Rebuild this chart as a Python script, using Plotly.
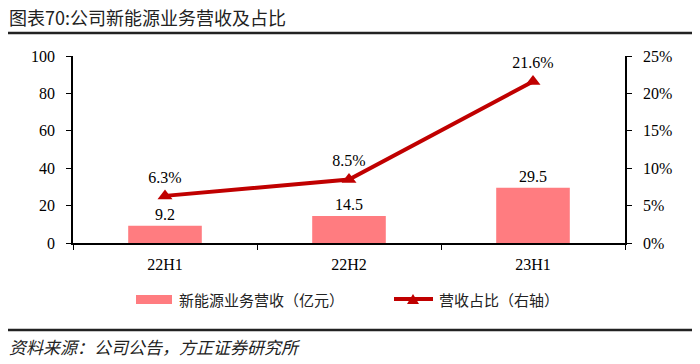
import plotly.graph_objects as go

categories = ["22H1", "22H2", "23H1"]
revenue = [9.2, 14.5, 29.5]
share = [6.3, 8.5, 21.6]
revenue_labels = ["9.2", "14.5", "29.5"]
share_labels = ["6.3%", "8.5%", "21.6%"]
left_ticks = [0, 20, 40, 60, 80, 100]
right_ticks = [0, 5, 10, 15, 20, 25]
right_tick_labels = ["0%", "5%", "10%", "15%", "20%", "25%"]
legend_names = ["新能源业务营收（亿元）", "营收占比（右轴）"]

W, H = 700, 364
L, R, T, B = 73, 75, 56, 121
PW, PH = W - L - R, H - T - B

def px(x):
    return (x - L) / PW

def py(y):
    return (H - B - y) / PH

NUM_FONT = "Liberation Serif"
CJK_FONT = "Noto Sans CJK SC"
BAR_COLOR = "#FF7C80"
LINE_COLOR = "#C00000"

fig = go.Figure()
fig.add_trace(go.Bar(
    x=categories, y=revenue, name=legend_names[0],
    marker=dict(color=BAR_COLOR, line=dict(width=0)),
    width=0.4,
    text=revenue_labels, textposition="outside",
    textfont=dict(family=NUM_FONT, size=16, color="black"),
    cliponaxis=False,
))
fig.add_trace(go.Scatter(
    x=categories, y=share, name=legend_names[1], yaxis="y2",
    mode="lines+markers+text",
    line=dict(color=LINE_COLOR, width=4),
    marker=dict(symbol="triangle-up", size=13, color=LINE_COLOR),
    text=share_labels, textposition="top center",
    textfont=dict(family=NUM_FONT, size=16, color="black"),
    cliponaxis=False,
))

# legend drawn by hand (wide bar swatch, line with triangle)
ly = 299
tri_cx, tri_w, tri_h = 413, 12, 10
legend_shapes = [
    dict(type="rect", xref="paper", yref="paper", x0=px(136), x1=px(172), y0=py(304), y1=py(295),
         fillcolor=BAR_COLOR, line=dict(width=0)),
    dict(type="line", xref="paper", yref="paper", x0=px(394), x1=px(433), y0=py(ly), y1=py(ly),
         line=dict(color=LINE_COLOR, width=4)),
    dict(type="path", xref="paper", yref="paper",
         path=f"M {px(tri_cx - tri_w/2)} {py(ly + tri_h/2)} L {px(tri_cx + tri_w/2)} {py(ly + tri_h/2)} "
              f"L {px(tri_cx)} {py(ly - tri_h/2)} Z",
         fillcolor=LINE_COLOR, line=dict(width=0)),
]

fig.update_layout(
    width=W, height=H,
    margin=dict(l=L, r=R, t=T, b=B),
    paper_bgcolor="white", plot_bgcolor="white",
    showlegend=False,
    xaxis=dict(
        showline=True, linecolor="black", linewidth=1.5,
        ticks="outside", ticklen=5, tickcolor="black",
        tickson="boundaries", ticklabelstandoff=6,
        tickfont=dict(family=NUM_FONT, size=16, color="black"),
        showgrid=False, zeroline=False,
    ),
    yaxis=dict(
        range=[0, 100], tickvals=left_ticks,
        showline=True, linecolor="black", linewidth=1.5,
        ticks="outside", ticklen=5, tickcolor="black", ticklabelstandoff=8,
        tickfont=dict(family=NUM_FONT, size=16, color="black"),
        showgrid=False, zeroline=False,
    ),
    yaxis2=dict(
        range=[0, 25], tickvals=right_ticks, ticktext=right_tick_labels,
        overlaying="y", side="right",
        showline=True, linecolor="black", linewidth=1.5,
        ticks="outside", ticklen=5, tickcolor="black", ticklabelstandoff=8,
        tickfont=dict(family=NUM_FONT, size=16, color="black"),
        showgrid=False, zeroline=False,
    ),
    shapes=[
        dict(type="line", xref="paper", yref="paper", x0=px(8), x1=px(692), y0=py(33), y1=py(33),
             line=dict(color="#222", width=2.5)),
        dict(type="line", xref="paper", yref="paper", x0=px(8), x1=px(692), y0=py(330), y1=py(330),
             line=dict(color="#222", width=2.5)),
    ] + legend_shapes,
    annotations=[
        dict(text="图表70:公司新能源业务营收及占比", xref="paper", yref="paper",
             x=px(7), y=py(17), xanchor="left", yanchor="middle", showarrow=False,
             font=dict(family=CJK_FONT, size=18, color="#222")),
        dict(text="<i>资料来源：公司公告，方正证券研究所</i>", xref="paper", yref="paper",
             x=px(7), y=py(346), xanchor="left", yanchor="middle", showarrow=False,
             font=dict(family=CJK_FONT, size=17, color="#222")),
        dict(text=legend_names[0], xref="paper", yref="paper",
             x=px(177), y=py(ly), xanchor="left", yanchor="middle", showarrow=False,
             font=dict(family=CJK_FONT, size=15, color="#222")),
        dict(text=legend_names[1], xref="paper", yref="paper",
             x=px(437), y=py(ly), xanchor="left", yanchor="middle", showarrow=False,
             font=dict(family=CJK_FONT, size=15, color="#222")),
    ],
)

fig.write_html("out.html", config={"displayModeBar": False},
               post_script="document.body.style.margin='0';")
